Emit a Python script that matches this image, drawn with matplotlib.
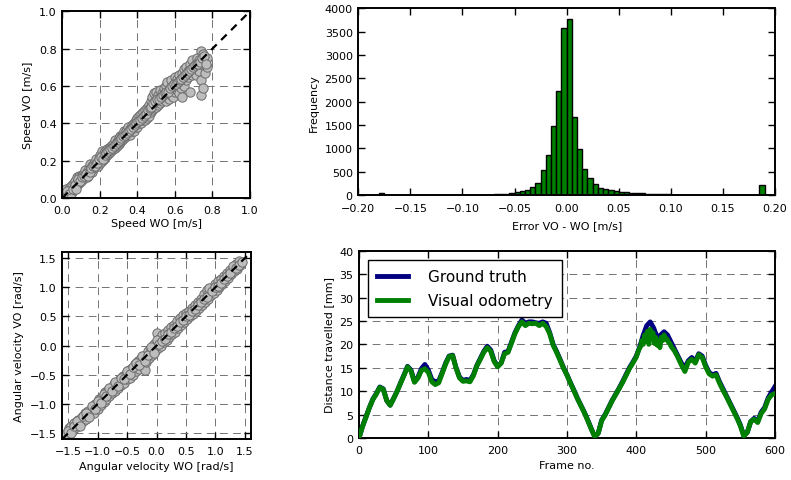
import matplotlib
matplotlib.use("Agg")
import matplotlib.pyplot as plt
import numpy as np

# ---------------- data ----------------
speed_wo = [0.00,0.01,0.01,0.02,0.02,0.03,0.03,0.04,0.04,0.05,0.05,0.06,0.06,0.07,0.07,0.08,0.08,0.09,0.09,0.10,0.10,
            0.11,0.11,0.12,0.12,0.13,0.13,0.14,0.14,0.15,0.15,0.16,0.16,0.17,0.17,0.18,0.18,0.19,0.19,0.20,0.20,
            0.21,0.21,0.22,0.22,0.23,0.23,0.24,0.24,0.25,0.25,0.26,0.26,0.27,0.27,0.28,0.28,0.29,0.29,0.30,0.30,
            0.31,0.31,0.32,0.32,0.33,0.33,0.34,0.34,0.35,0.35,0.36,0.36,0.37,0.37,0.38,0.38,0.39,0.39,0.40,0.40,
            0.41,0.41,0.42,0.42,0.43,0.43,0.44,0.44,0.45,0.45,0.46,0.46,0.47,0.47,0.48,0.48,0.49,0.49,0.50,0.50,
            0.51,0.51,0.52,0.52,0.53,0.53,0.54,0.54,0.55,0.55,0.56,0.56,0.57,0.57,0.58,0.58,0.59,0.59,0.60,0.60,
            0.61,0.61,0.62,0.62,0.63,0.63,0.64,0.64,0.65,0.65,0.66,0.66,0.67,0.67,0.68,0.68,0.69,0.69,0.70,0.71,
            0.71,0.72,0.72,0.73,0.73,0.74,0.74,0.74,0.75,0.75,0.75,0.76,0.76,0.77,0.77,
            0.005,0.015,0.025,0.035,0.045,0.055,0.065,0.075,0.085,0.095,
            0.105,0.115,0.125,0.135,0.145,0.155,0.165,0.175,0.185,0.195,
            0.205,0.215,0.225,0.235,0.245,0.255,0.265,0.275,0.285,0.295,
            0.305,0.315,0.325,0.335,0.345,0.355,0.365,0.375,0.385,0.395,
            0.405,0.415,0.425,0.435,0.445,0.455,0.465,0.475,0.485,0.495,
            0.505,0.515,0.525,0.535,0.545,0.555,0.565,0.575,0.585,0.595,
            0.605,0.615,0.625,0.635,0.645,0.655,0.665,0.675,0.685,0.695,
            0.705,0.715,0.725,0.735,0.745,0.755,0.765]
speed_vo = [0.01,0.00,0.03,0.02,0.05,0.01,0.04,0.02,0.06,0.03,0.07,0.05,0.08,0.06,0.09,0.07,0.11,0.08,0.12,0.09,0.12,
            0.10,0.13,0.12,0.15,0.11,0.14,0.13,0.16,0.15,0.18,0.14,0.17,0.16,0.19,0.18,0.21,0.17,0.20,0.19,0.23,
            0.20,0.25,0.21,0.24,0.22,0.25,0.23,0.26,0.24,0.27,0.25,0.28,0.26,0.29,0.27,0.31,0.28,0.30,0.29,0.32,
            0.30,0.33,0.31,0.34,0.32,0.36,0.33,0.36,0.34,0.38,0.34,0.37,0.36,0.39,0.36,0.40,0.38,0.42,0.38,0.43,
            0.40,0.44,0.40,0.45,0.42,0.46,0.42,0.47,0.43,0.48,0.44,0.50,0.46,0.52,0.47,0.54,0.48,0.56,0.49,0.57,
            0.50,0.55,0.51,0.58,0.52,0.56,0.53,0.59,0.52,0.60,0.54,0.62,0.53,0.58,0.55,0.63,0.54,0.60,0.57,0.65,
            0.58,0.64,0.56,0.66,0.59,0.62,0.54,0.67,0.60,0.69,0.63,0.70,0.65,0.68,0.57,0.72,0.66,0.74,0.69,0.72,
            0.66,0.70,0.75,0.74,0.68,0.55,0.63,0.79,0.59,0.71,0.77,0.67,0.73,0.70,0.75,
            0.02,0.00,0.04,0.02,0.00,0.05,0.07,0.05,0.10,0.09,
            0.11,0.12,0.13,0.12,0.14,0.16,0.17,0.17,0.19,0.21,
            0.22,0.21,0.23,0.24,0.25,0.26,0.27,0.28,0.29,0.30,
            0.31,0.32,0.33,0.34,0.35,0.36,0.37,0.38,0.39,0.40,
            0.41,0.42,0.43,0.44,0.45,0.47,0.48,0.49,0.51,0.52,
            0.53,0.53,0.54,0.55,0.56,0.57,0.57,0.59,0.60,0.61,
            0.61,0.62,0.63,0.64,0.65,0.66,0.67,0.68,0.69,0.70,
            0.71,0.72,0.72,0.73,0.75,0.76,0.72]

ang_wo = [-1.52,-1.48,-1.45,-1.42,-1.40,-1.36,-1.33,-1.30,-1.27,-1.25,-1.22,-1.20,-1.17,-1.14,-1.10,-1.07,-1.04,-1.00,
          -0.97,-0.95,-0.92,-0.90,-0.87,-0.85,-0.82,-0.80,-0.77,-0.75,-0.72,-0.70,-0.67,-0.65,-0.62,-0.60,-0.57,-0.55,
          -0.52,-0.50,-0.47,-0.45,-0.42,-0.40,-0.37,-0.35,-0.32,-0.30,-0.27,-0.25,-0.22,-0.20,-0.18,-0.15,-0.13,-0.10,
          -0.08,-0.05,-0.03,0.00,0.00,0.02,0.05,0.07,0.10,0.12,0.15,0.17,0.20,0.22,0.25,0.27,0.30,0.32,0.35,0.37,
          0.40,0.42,0.45,0.47,0.50,0.52,0.55,0.57,0.60,0.62,0.65,0.67,0.70,0.72,0.75,0.77,0.80,0.82,0.85,0.87,
          0.90,0.92,0.95,0.97,1.00,1.02,1.05,1.07,1.10,1.12,1.15,1.17,1.20,1.22,1.25,1.27,1.30,1.32,1.35,1.37,
          1.40,1.42,
          -1.55,-1.50,-1.45,-1.40,-1.35,-1.30,-1.25,-1.20,-1.15,-1.10,-1.05,-1.00,-0.95,-0.90,-0.85,-0.80,
          -0.75,-0.70,-0.65,-0.60,-0.55,-0.50,-0.45,-0.40,-0.35,-0.30,-0.25,-0.20,-0.15,-0.10,-0.05,0.00,
          0.05,0.10,0.15,0.20,0.25,0.30,0.35,0.40,0.45,0.50,0.55,0.60,0.65,0.70,0.75,0.80,0.85,0.90,
          0.95,1.00,1.05,1.10,1.15,1.20,1.25,1.30,1.35,1.40,1.45]
ang_vo = [-1.50,-1.42,-1.38,-1.45,-1.33,-1.40,-1.28,-1.33,-1.22,-1.30,-1.15,-1.25,-1.12,-1.20,-1.10,-1.15,-1.00,-1.08,
          -0.92,-1.02,-0.88,-0.97,-0.80,-0.92,-0.76,-0.86,-0.72,-0.82,-0.66,-0.78,-0.62,-0.72,-0.58,-0.68,-0.52,-0.64,
          -0.48,-0.58,-0.42,-0.55,-0.38,-0.50,-0.32,-0.44,-0.27,-0.40,-0.22,-0.35,-0.18,-0.42,-0.28,-0.10,-0.22,-0.05,
          -0.16,0.02,-0.10,0.22,0.05,-0.04,0.12,0.00,0.18,0.06,0.22,0.10,0.26,0.14,0.32,0.20,0.36,0.24,0.42,0.30,
          0.47,0.35,0.52,0.40,0.56,0.45,0.60,0.50,0.64,0.55,0.70,0.60,0.75,0.65,0.80,0.70,0.88,0.75,0.95,0.80,
          0.92,0.86,0.98,0.90,1.05,0.95,1.10,1.00,1.15,1.05,1.20,1.10,1.25,1.16,1.30,1.22,1.33,1.28,1.40,1.32,
          1.45,1.38,
          -1.52,-1.47,-1.50,-1.38,-1.30,-1.37,-1.21,-1.16,-1.22,-1.04,-1.09,-0.95,-0.98,-0.83,-0.86,-0.72,
          -0.77,-0.62,-0.69,-0.55,-0.58,-0.43,-0.49,-0.36,-0.30,-0.34,-0.18,-0.26,-0.16,-0.02,-0.12,0.10,
          0.02,0.08,0.12,0.20,0.23,0.30,0.33,0.40,0.44,0.50,0.53,0.60,0.63,0.70,0.74,0.80,0.84,0.98,
          0.93,1.00,1.03,1.08,1.15,1.19,1.24,1.36,1.33,1.38,1.44]

hist_edges = np.round(np.arange(-0.2, 0.2001, 0.005), 4)
hist_counts = [3,4,6,10,40,8,6,5,6,5,
               7,6,5,6,7,6,5,6,7,6,
               6,7,6,8,7,10,12,15,22,35,
               55,75,100,175,250,530,860,1480,2220,3570,
               3780,1680,990,560,360,230,160,130,105,90,
               70,55,45,40,35,28,22,18,15,12,
               10,8,7,8,6,7,6,5,6,5,
               4,5,4,5,4,4,5,210,0,0]

frames = list(range(0, 601, 5))
ground_truth = [0,2.5,4.5,6.5,8.3,9.5,10.9,10.5,8,7,
                8.5,10,11.8,13.5,15.3,14.5,12,13,14.8,15.7,
                14.5,12.5,12,12.2,14,16,17.5,17.7,15,13,
                12.3,12.5,12.3,13.5,15.5,17,18.5,19.6,18.8,16.5,
                15.3,16,18.3,18.5,20.5,22.5,24,25.2,24.5,24.8,
                24.8,24.6,24.5,24.8,24.5,22.5,20,18.5,16.8,15,
                13.5,11.8,10.2,8.5,7,5.5,3.8,2,0.3,1,
                3.8,5,6.5,8,9.3,10.6,12,13.5,15,16.2,
                17.5,19.5,22,24,24.8,23.5,21.5,22,22.7,22,
                20.5,19,17.5,16,15,16.5,17.2,16.3,18,17.5,
                15.5,14,13.5,13.8,12,10.5,9,7.5,6,4.5,
                2.8,0.5,1.2,3.5,4.2,3.5,5.5,6.5,8.5,9.8,
                11]
vo_frames = (list(range(0, 400, 5)) + list(range(400, 451, 2)) + list(range(455, 601, 5)))
visual_odometry = [0,2.4,4.4,6.5,8.2,9.4,10.8,10.4,8,7,
                   8.4,10,11.7,13.4,15.2,14.3,11.9,12.8,14.4,14.8,
                   14,12,11.4,11.8,13.8,15.8,17.4,17.6,14.9,12.8,
                   12.1,12.2,12,13.3,15.4,16.8,18.3,19.3,18.5,16.3,
                   15.2,16,18,18.3,20.3,22.3,23.8,24.8,24,24.5,
                   24.4,24.5,24,24.5,23.8,22.3,19.8,18.3,16.6,14.9,
                   13.4,11.7,10.1,8.4,6.9,5.4,3.7,1.9,0.3,1,
                   3.7,4.9,6.4,7.9,9.2,10.5,11.8,13.3,14.8,16,
                   17.3,18.2,19,19.5,20.8,20,22,21,22.8,20,
                   23.2,21.5,22.5,20.2,21.5,19.8,20.5,19.3,21.5,20.8,
                   22,21,21.2,20.5,20.3,19.6,
                   18.6,17.2,15.6,14.2,16.2,16.8,16,17.8,17.2,
                   15.2,13.7,13.2,13.5,11.7,10.2,8.8,7.3,5.8,4.3,
                   2.6,0.4,1.2,3.5,4,3.3,5.2,6.2,8.2,9.2,
                   9.5]

# ---------------- style ----------------
plt.rcParams['font.family'] = ['DejaVu Sans']
plt.rcParams['font.size'] = 8
plt.rcParams['axes.unicode_minus'] = True

GRID = dict(color='0.45', linestyle=(0, (8, 5.5)), linewidth=0.7)
GREEN = (0, 0.5, 0)
NAVY = (0, 0, 0.5)

fig = plt.figure(figsize=(7.91, 4.81), dpi=100)
W, H = 791, 481

def add_ax(x0, y0, x1, y1):
    return fig.add_axes([x0 / W, (H - y1) / H, (x1 - x0) / W, (y1 - y0) / H])

def style(ax, grid=True):
    for s in ax.spines.values():
        s.set_linewidth(1.4)
    ax.tick_params(direction='in', top=True, right=True, length=5, width=1,
                   labelsize=8)
    ax.tick_params(axis='x', pad=5)
    ax.tick_params(axis='y', pad=4)
    if grid:
        ax.grid(True, **GRID)
    ax.set_axisbelow(True)

def fmt(v, d):
    s = ('%.' + str(d) + 'f') % abs(v)
    return ('\u2212' + s) if v < -1e-9 else s

# top-left: speed scatter
ax1 = add_ax(62.3, 12.3, 250, 199)
ax1.scatter(speed_wo, speed_vo, s=45, facecolor='0.74', edgecolor='0.42', linewidth=0.7, zorder=2)
ax1.plot([0, 1], [0, 1], 'k', linestyle=(0, (3.5, 2.8)), linewidth=1.6, zorder=3)
ax1.set_xlim(0, 1)
ax1.set_ylim(0, 1)
t1 = np.arange(0, 1.01, 0.2)
ax1.set_xticks(t1)
ax1.set_yticks(t1)
ax1.set_xticklabels([fmt(v, 1) for v in t1])
ax1.set_yticklabels([fmt(v, 1) for v in t1])
ax1.set_xlabel('Speed WO [m/s]', labelpad=2)
ax1.set_ylabel('Speed VO [m/s]')
style(ax1)

# top-right: histogram
ax2 = add_ax(358.3, 9.3, 775, 196)
centers = (hist_edges[:-1] + hist_edges[1:]) / 2
ax2.hist(centers, bins=hist_edges, weights=hist_counts, facecolor=GREEN, edgecolor='k', linewidth=1.0, zorder=2)
ax2.set_xlim(-0.2, 0.2)
ax2.set_ylim(0, 4000)
xt = np.round(np.arange(-0.2, 0.2001, 0.05), 2)
ax2.set_xticks(xt)
ax2.set_xticklabels([fmt(v, 2) for v in xt])
ax2.set_yticks(np.arange(0, 4001, 500))
ax2.set_xlabel('Error VO - WO [m/s]', labelpad=5)
ax2.set_ylabel('Frequency')
style(ax2, grid=False)
ax2.tick_params(axis='x', pad=6)

# bottom-left: angular velocity scatter
ax3 = add_ax(62.3, 253.3, 250.7, 440)
ax3.scatter(ang_wo, ang_vo, s=45, facecolor='0.74', edgecolor='0.42', linewidth=0.7, zorder=2)
ax3.plot([-1.6, 1.6], [-1.6, 1.6], 'k', linestyle=(0, (3.5, 2.8)), linewidth=1.6, zorder=3)
ax3.set_xlim(-1.6, 1.6)
ax3.set_ylim(-1.6, 1.6)
at = np.arange(-1.5, 1.51, 0.5)
ax3.set_xticks(at)
ax3.set_yticks(at)
ax3.set_xticklabels([fmt(v, 1) for v in at])
ax3.set_yticklabels([fmt(v, 1) for v in at])
ax3.set_xlabel('Angular velocity WO [rad/s]')
ax3.set_ylabel('Angular velocity VO [rad/s]')
style(ax3)

# bottom-right: distance travelled
ax4 = add_ax(359, 251.7, 775, 439)
ax4.plot(frames, ground_truth, color=NAVY, linewidth=3.5, label='Ground truth', zorder=2)
ax4.plot(vo_frames, visual_odometry, color=GREEN, linewidth=3.5, label='Visual odometry', zorder=3)
ax4.set_xlim(0, 600)
ax4.set_ylim(0, 40)
ax4.set_xticks(np.arange(0, 601, 100))
ax4.set_yticks(np.arange(0, 41, 5))
ax4.set_xlabel('Frame no.')
ax4.set_ylabel('Distance travelled [mm]')
style(ax4)
leg = ax4.legend(loc='upper left', fontsize=11, fancybox=False, framealpha=1,
                 edgecolor='k', handlelength=2.0, borderpad=0.6, labelspacing=0.6,
                 handletextpad=1.3, bbox_to_anchor=(0.0, 1.0), borderaxespad=0.6)
leg.get_frame().set_linewidth(1.0)
leg.set_zorder(5)

fig.savefig('out.png', dpi=100, facecolor='white')
